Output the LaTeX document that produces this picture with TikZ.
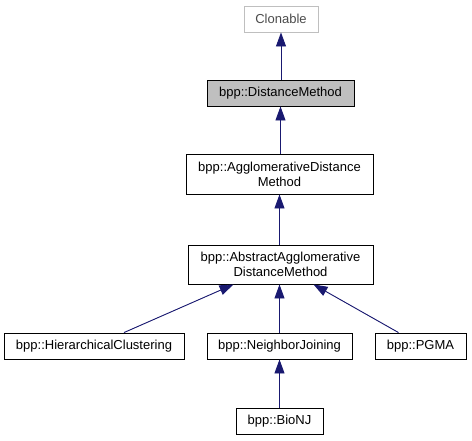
\documentclass[tikz,border=0pt]{standalone}
\usepackage{fontspec}
\setmainfont{Liberation Sans}
\usetikzlibrary{arrows.meta}
\definecolor{edgeblue}{HTML}{191970}
\definecolor{boxgray}{HTML}{BFBFBF}
\definecolor{txtgray}{HTML}{7F7F7F}
\tikzset{
  cls/.style={draw=black, line width=0.9pt, fill=white, inner sep=0pt, align=center,
    font=\fontsize{13}{15}\selectfont, text=black},
  extcls/.style={cls, draw=boxgray, text=black!70},
  curcls/.style={cls, fill=boxgray},
  inh/.style={draw=edgeblue, line width=0.9pt, -{Triangle[length=14pt,width=10pt]}, fill=edgeblue},
}
\begin{document}
\begin{tikzpicture}[x=1pt,y=-1pt]
\useasboundingbox (0,0) rectangle (472,440);
\node[extcls, minimum width=74pt, minimum height=26pt] (clon) at (281,19) {Clonable};
\node[curcls, minimum width=147pt, minimum height=26pt] (dm) at (280.5,93) {bpp::DistanceMethod};
\node[cls, minimum width=187pt, minimum height=40pt] (adm) at (279.5,174) {bpp::AgglomerativeDistance\\Method};
\node[cls, minimum width=185pt, minimum height=39pt] (aadm) at (280.5,264.5) {bpp::AbstractAgglomerative\\DistanceMethod};
\node[cls, minimum width=180pt, minimum height=26pt] (hc) at (94,346) {bpp::HierarchicalClustering};
\node[cls, minimum width=145pt, minimum height=26pt] (nj) at (279.5,346) {bpp::NeighborJoining};
\node[cls, minimum width=91pt, minimum height=26pt] (pgma) at (420.5,346) {bpp::PGMA};
\node[cls, minimum width=87pt, minimum height=26pt] (bionj) at (279.5,421) {bpp::BioNJ};
\draw[inh] (dm.north -| clon.south) -- (clon.south);
\draw[inh] (adm.north -| dm.south) -- (dm.south);
\draw[inh] (aadm.north -| adm.south) -- (adm.south);
\draw[inh] ([xshift=30pt]hc.north) -- ([xshift=-47pt]aadm.south);
\draw[inh] (nj.north) -- (nj.north |- aadm.south);
\draw[inh] ([xshift=-22pt]pgma.north) -- ([xshift=33pt]aadm.south);
\draw[inh] (bionj.north) -- (nj.south);
\end{tikzpicture}
\end{document}
